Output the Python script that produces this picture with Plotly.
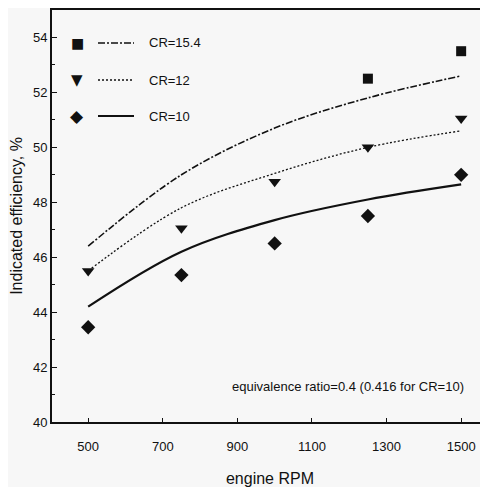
import plotly.graph_objects as go

# ---- data ----
rpm = [500, 750, 1000, 1250, 1500]

# fitted curves
cr154_fit = [46.4, 49.0, 50.7, 51.8, 52.6]
cr12_fit = [45.5, 47.8, 49.05, 50.0, 50.6]
cr10_fit = [44.2, 46.2, 47.35, 48.1, 48.65]

# measured points
cr154_rpm = [1250, 1500]
cr154_pts = [52.5, 53.5]
cr12_pts = [45.5, 47.05, 48.75, 50.0, 51.05]
cr10_pts = [43.45, 45.35, 46.5, 47.5, 49.0]

x_ticks = [500, 700, 900, 1100, 1300, 1500]
y_ticks = [40, 42, 44, 46, 48, 50, 52, 54]

legend_labels = ["CR=15.4", "CR=12", "CR=10"]
note = "equivalence ratio=0.4 (0.416 for CR=10)"

SANS = "Liberation Sans, Arial, sans-serif"
INK = "#111111"

fig = go.Figure()

fig.add_trace(go.Scatter(x=rpm, y=cr154_fit, mode="lines", line=dict(color=INK, width=1.6, dash="7px,2px,2px,2px", shape="spline"), showlegend=False))
fig.add_trace(go.Scatter(x=rpm, y=cr12_fit, mode="lines", line=dict(color=INK, width=1.3, dash="2px,2px", shape="spline"), showlegend=False))
fig.add_trace(go.Scatter(x=rpm, y=cr10_fit, mode="lines", line=dict(color=INK, width=2.2, shape="spline"), showlegend=False))

fig.add_trace(go.Scatter(x=cr154_rpm, y=cr154_pts, mode="markers", marker=dict(symbol="square", size=10, color=INK), showlegend=False))
fig.add_trace(go.Scatter(x=rpm, y=cr12_pts, mode="markers", marker=dict(symbol="triangle-down", size=11, color=INK), showlegend=False))
fig.add_trace(go.Scatter(x=rpm, y=cr10_pts, mode="markers", marker=dict(symbol="diamond", size=11, color=INK), showlegend=False))

# page body has an 8px margin; figure sized to fit the window
OFF = 8
W, H = 488 - OFF, 487 - OFF
L, R, T, B = 52 - OFF, 0, 10 - OFF, 65
pw, ph = W - L - R, H - T - B

def px(x):
    # window x -> paper
    return (x - OFF - L) / pw

def py(y):
    # window y -> paper
    return (H - B - (y - OFF)) / ph

rows_y = [43, 80, 116]
symbols = ["■", "▼", "◆"]
sym_sizes = [14, 15, 17]
dashes = ["7px,2px,2px,2px", "2px,2px", "solid"]
widths = [1.6, 1.3, 2.2]
for yy, sym, ss, lab, d, w in zip(rows_y, symbols, sym_sizes, legend_labels, dashes, widths):
    fig.add_annotation(x=px(77), y=py(yy), xref="paper", yref="paper", text=sym, showarrow=False,
                       font=dict(size=ss, color=INK, family="DejaVu Sans"), xanchor="center", yanchor="middle")
    fig.add_shape(type="line", xref="paper", yref="paper", x0=px(98), x1=px(134), y0=py(yy), y1=py(yy),
                  line=dict(color=INK, width=w, dash=d))
    fig.add_annotation(x=px(147), y=py(yy), xref="paper", yref="paper", text=lab, showarrow=False,
                       font=dict(size=13, color=INK, family=SANS), xanchor="left", yanchor="middle")

fig.add_annotation(x=px(466), y=py(386), xref="paper", yref="paper", text=note, showarrow=False,
                   font=dict(size=13, color=INK, family=SANS), xanchor="right", yanchor="middle")

fig.update_layout(
    width=W, height=H,
    margin=dict(l=L, r=R, t=T, b=B),
    paper_bgcolor="#f7f7f7", plot_bgcolor="#f7f7f7",
    font=dict(family=SANS, color=INK),
    xaxis=dict(range=[403, 1572], tickvals=x_ticks, ticks="inside", ticklen=4, tickwidth=1, tickcolor=INK,
               showline=True, linecolor=INK, linewidth=2, mirror=True, showgrid=False, zeroline=False,
               automargin=False,
               tickfont=dict(size=13, family=SANS), ticklabelstandoff=11,
               title=dict(text="engine RPM", font=dict(size=16, family=SANS), standoff=20)),
    yaxis=dict(range=[40, 55], tickvals=y_ticks, ticks="inside", ticklen=5, tickwidth=1, tickcolor=INK,
               showline=True, linecolor=INK, linewidth=2, showgrid=False, zeroline=False,
               automargin=False,
               minor=dict(dtick=1, ticks="inside", ticklen=3, tickcolor=INK),
               tickfont=dict(size=13, family=SANS),
               title=dict(text="Indicated efficiency, %", font=dict(size=16, family=SANS), standoff=6)),
)

fig.write_html("out.html")
